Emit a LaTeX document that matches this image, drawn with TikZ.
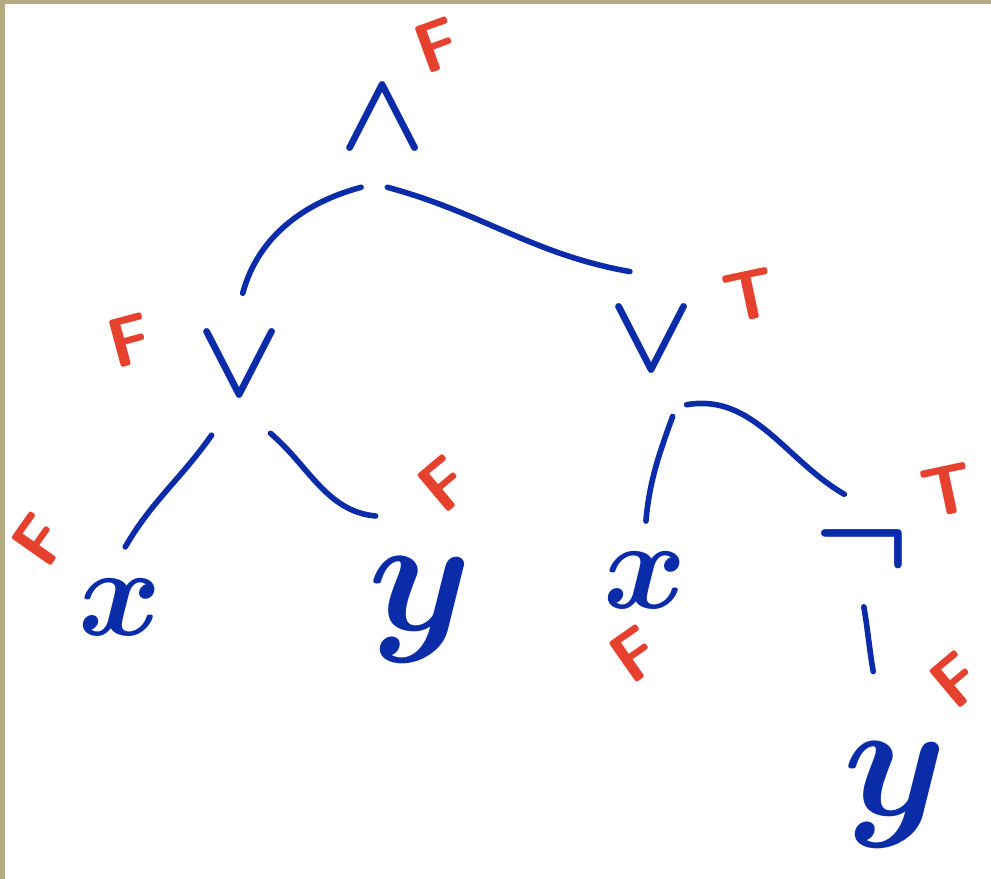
\documentclass[tikz,border=0pt]{standalone}
\usepackage{fix-cm}
\usetikzlibrary{positioning}
\definecolor{pen}{HTML}{0A2CA8}
\definecolor{redpen}{HTML}{E6402F}
\definecolor{paper}{HTML}{B5AA80}

\begin{document}
\begin{tikzpicture}[
    x=0.02cm, y=-0.02cm,
    sym/.style={text=pen, inner xsep=0.4cm, inner ysep=#1,
                font=\fontsize{72}{72}\selectfont\boldmath},
    op/.style={sym=#1, font=\fontsize{64}{64}\selectfont\boldmath},
    val/.style={text=redpen, inner sep=0pt, rotate=#1,
                font=\fontsize{40}{40}\selectfont\sffamily\bfseries},
    branch/.style={pen, line width=3.2pt, line cap=round,
                   shorten <=6pt, shorten >=6pt}
  ]

% ---------------- sheet ----------------
\useasboundingbox (0,0) rectangle (991,879);
\fill[paper] (0,0) rectangle (991,879);
\fill[white] (5,4) rectangle (991,879);

% ---------------- formula nodes ----------------
\node[op=0.7cm]  (and)  at (383,118) {$\wedge$};
\node[op=0.6cm]  (orL)  at (240,365) {$\vee$};
\node[op=0.7cm]  (orR)  at (652,340) {$\vee$};
\node[sym=0.45cm] (xL)  at (120,607) {$x$};
\node[sym=0.8cm, font=\fontsize{94}{94}\selectfont\boldmath] (yL) at (420,610) {$y$};
\node[sym=0.4cm] (xR)   at (645,580) {$x$};
\node[sym=0.4cm] (notR) at (862,548) {$\neg$};
\node[sym=1.2cm, font=\fontsize{94}{94}\selectfont\boldmath] (yR) at (895,795) {$y$};

% ---------------- truth values ----------------
\node[val=20] (vAnd)  at (437,45)  {F};
\node[val=15] (vOrL)  at (130,340) {F};
\node[val=12] (vOrR)  at (750,295) {T};
\node[val=55] (vXL)   at (40,540)  {F};
\node[val=40] (vYL)   at (444,484) {F};
\node[val=35] (vXR)   at (635,654) {F};
\node[val=12] (vNotR) at (948,490) {T};
\node[val=40] (vYR)   at (956,680) {F};

% ---------------- branches ----------------
\foreach \a/\b/\o/\i in {and.-100/orL.north/195/75, and.-95/orR.100/-15/170,
                         orL.-110/xL.north/-125/60, orL.-70/yL.110/-40/175,
                         orR.-70/xR.north/-110/85, orR.-70/notR.100/10/150,
                         notR.south/yR.100/-80/100}
  \draw[branch] (\a) to[out=\o, in=\i] (\b);

\end{tikzpicture}
\end{document}
